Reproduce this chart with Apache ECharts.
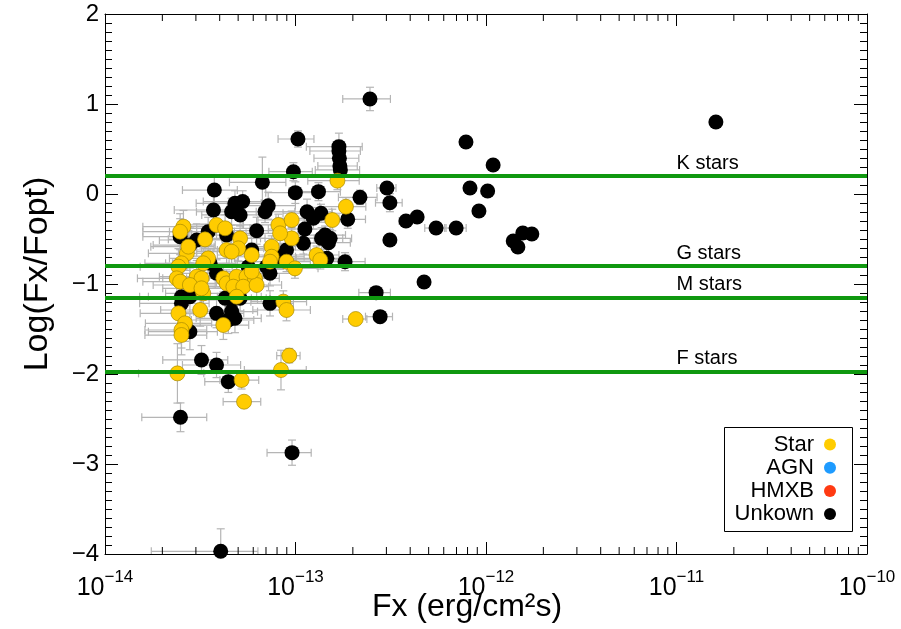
<!DOCTYPE html>
<html>
<head>
<meta charset="utf-8">
<script src="https://cdn.jsdelivr.net/npm/echarts@6/dist/echarts.min.js"></script>
<style>html,body{margin:0;padding:0;background:#fff;}#c{width:901px;height:629px;}</style>
</head>
<body>
<div id="c"></div>
<script>
// ---- data ----
// Unknown sources (black)
const unkFx = [2.46e-13,1.61e-11,7.85e-13,1.09e-12,1.03e-13,8.24e-13,1.02e-12,9.18e-13,3.02e-13,3.13e-13,
  3.80e-13,4.35e-13,5.47e-13,6.97e-13,3.13e-13,4.73e-13,1.39e-12,1.56e-12,1.74e-12,1.47e-12,
  1.69e-13,1.69e-13,1.70e-13,1.71e-13,1.72e-13,9.75e-14,6.70e-14,9.98e-14,1.32e-13,2.18e-13,
  1.88e-13,7.19e-14,6.92e-14,1.15e-13,1.24e-13,1.36e-13,6.25e-14,1.10e-13,1.43e-13,1.49e-13,
  3.75e-14,4.81e-14,5.28e-14,3.71e-14,4.62e-14,5.12e-14,2.48e-14,3.48e-14,4.35e-14,3.03e-14,
  2.79e-14,5.89e-14,8.97e-14,8.30e-14,1.46e-13,1.82e-13,1.37e-13,1.52e-13,3.56e-14,3.85e-14,
  7.05e-14,7.35e-14,4.27e-14,4.62e-14,5.12e-14,2.52e-14,2.52e-14,7.35e-14,2.79e-14,3.85e-14,
  4.62e-14,4.81e-14,4.44e-14,2.79e-14,2.65e-13,2.78e-13,3.21e-14,3.85e-14,4.44e-14,2.49e-14,
  9.59e-14,4.05e-14,1.12e-13,5.65e-14];
const unkY = [1.056,0.80,0.578,0.322,0.611,0.067,0.033,-0.189,0.067,-0.097,
  -0.30,-0.256,-0.378,-0.378,-0.511,-0.978,-0.522,-0.433,-0.444,-0.589,
  0.526,0.478,0.397,0.311,0.267,0.248,0.13,0.015,0.026,-0.037,
  -0.281,-0.13,-0.197,-0.197,-0.27,-0.214,-0.408,-0.548,-0.456,-0.541,
  0.044,-0.104,-0.084,-0.178,-0.197,-0.233,-0.474,-0.419,-0.456,-0.511,
  -0.567,-0.622,-0.622,-0.697,-0.715,-0.752,-0.493,-0.493,-0.77,-0.881,
  -0.807,-0.881,-1.159,-1.178,-1.159,-1.141,-1.215,-1.215,-1.141,-1.326,
  -1.307,-1.381,-1.40,-1.53,-1.096,-1.363,-1.844,-1.90,-2.085,-2.481,
  -2.874,-3.97,-0.389,-0.81];
const unkDx = [0.69e-13,0,0,0,0.22e-13,0,0,0,0.35e-13,0.5e-13,
  0.3e-13,0.3e-13,0.7e-13,0.9e-13,0.2e-13,0,0,0,0,0,
  0.55e-13,0.5e-13,0.45e-13,0.4e-13,0.45e-13,0.25e-13,0.22e-13,0.3e-13,0.4e-13,0.5e-13,
  0.45e-13,0.28e-13,0.3e-13,0.4e-13,0.45e-13,0.5e-13,0.25e-13,0.35e-13,0.4e-13,0.45e-13,
  1.2e-14,1.8e-14,2.0e-14,1.4e-14,1.6e-14,1.9e-14,0.9e-14,1.3e-14,1.5e-14,1.1e-14,
  1.0e-14,2.0e-14,3.0e-14,2.8e-14,0.45e-13,0.5e-13,0.4e-13,0.45e-13,1.3e-14,1.4e-14,
  2.4e-14,2.6e-14,1.6e-14,1.7e-14,1.9e-14,1.0e-14,1.0e-14,2.4e-14,1.1e-14,1.5e-14,
  1.7e-14,1.8e-14,1.6e-14,1.1e-14,0.5e-13,0.45e-13,1.2e-14,1.3e-14,1.1e-14,0.93e-14,
  2.5e-14,2.3e-14,0.4e-13,2.0e-14];
const unkDy = [0.13,0,0,0,0.09,0,0,0,0.05,0.1,
  0,0,0,0,0.03,0,0,0,0,0,
  0.15,0.12,0.1,0.1,0.08,0.1,0.28,0.12,0.1,0.08,
  0.1,0.15,0.12,0.14,0.12,0.1,0.15,0.12,0.1,0.12,
  0.15,0.14,0.12,0.18,0.15,0.12,0.2,0.16,0.14,0.18,
  0.2,0.13,0.12,0.14,0.1,0.1,0.12,0.1,0.16,0.15,
  0.12,0.14,0.16,0.15,0.14,0.2,0.18,0.14,0.17,0.16,
  0.15,0.16,0.15,0.2,0.06,0.06,0.16,0.14,0.12,0.16,
  0.14,0.25,0.12,0.14];

// Stars (yellow)
const starFx = [1.66e-13,1.84e-13,1.56e-13,8.13e-14,9.55e-14,9.55e-14,8.30e-14,2.58e-14,2.48e-14,3.85e-14,
  4.27e-14,3.35e-14,5.12e-14,5.01e-14,4.35e-14,4.62e-14,2.69e-14,2.74e-14,3.48e-14,3.28e-14,
  2.52e-14,2.43e-14,5.89e-14,7.50e-14,7.50e-14,8.97e-14,9.93e-14,1.29e-13,1.35e-13,2.38e-14,
  2.48e-14,3.03e-14,3.21e-14,2.79e-14,3.28e-14,3.21e-14,4.18e-14,4.35e-14,4.91e-14,5.53e-14,
  6.12e-14,4.72e-14,5.32e-14,6.25e-14,5.89e-14,7.35e-14,4.91e-14,3.16e-14,4.18e-14,2.43e-14,
  2.63e-14,2.52e-14,2.52e-14,8.63e-14,8.97e-14,2.07e-13,2.40e-14,5.21e-14,5.37e-14,9.27e-14,
  8.39e-14];
const starY = [0.148,-0.141,-0.289,-0.344,-0.289,-0.493,-0.437,-0.363,-0.419,-0.344,
  -0.381,-0.504,-0.493,-0.604,-0.622,-0.641,-0.659,-0.585,-0.715,-0.77,
  -0.77,-0.807,-0.678,-0.585,-0.697,-0.752,-0.826,-0.678,-0.733,-0.937,
  -0.974,-0.919,-0.937,-1.011,-1.104,-1.048,-0.937,-0.993,-0.919,-0.919,
  -0.937,-1.03,-1.03,-1.011,-0.863,-0.752,-1.141,-1.289,-1.456,-1.326,
  -1.437,-1.511,-1.567,-1.196,-1.289,-1.389,-1.993,-2.067,-2.308,-1.796,
  -1.956];
const starDx = [0.5e-13,0.5e-13,0.45e-13,2.8e-14,3.2e-14,3.0e-14,2.8e-14,1.0e-14,0.9e-14,1.4e-14,
  1.5e-14,1.2e-14,1.8e-14,1.8e-14,1.6e-14,1.6e-14,1.0e-14,1.0e-14,1.3e-14,1.2e-14,
  0.9e-14,0.9e-14,2.0e-14,2.5e-14,2.5e-14,3.0e-14,3.2e-14,0.4e-13,0.42e-13,0.9e-14,
  0.9e-14,1.1e-14,1.2e-14,1.0e-14,1.2e-14,1.2e-14,1.5e-14,1.6e-14,1.8e-14,2.0e-14,
  2.1e-14,1.7e-14,1.9e-14,2.2e-14,2.0e-14,2.4e-14,1.7e-14,1.2e-14,1.5e-14,0.9e-14,
  1.0e-14,0.9e-14,0.9e-14,2.8e-14,3.0e-14,0.3e-13,0.9e-14,1.2e-14,1.2e-14,1.3e-14,
  3.0e-14];
const starDy = [0.1,0.1,0.12,0.12,0.1,0.12,0.14,0.18,0.2,0.16,
  0.15,0.17,0.14,0.14,0.15,0.15,0.19,0.18,0.16,0.17,
  0.2,0.2,0.13,0.12,0.12,0.11,0.11,0.1,0.1,0.2,
  0.2,0.18,0.17,0.19,0.17,0.17,0.15,0.15,0.14,0.13,
  0.13,0.15,0.14,0.13,0.13,0.12,0.15,0.18,0.16,0.2,
  0.2,0.2,0.22,0.12,0.12,0.05,0.33,0.1,0.05,0.08,
  0.22];

// AGN and HMXB: none plotted (legend only)
const agnFx = [], agnY = [];
const hmxbFx = [], hmxbY = [];

// Spectral class reference lines
const classNames = ['K stars','G stars','M stars','F stars'];
const classY = [0.2, -0.8, -1.15, -1.97];
const classLabelX = 1e-11;

// Axis ticks
const xMajorExp = [-14,-13,-12,-11,-10];
const xMinorMant = [2,3,4,5,6,7,8,9];

const legendNames = ['Star','AGN','HMXB','Unkown'];
const legendColors = ['#FFCC00','#1E9BFF','#FF3A12','#000000'];

// ---- chart ----
const chart = echarts.init(document.getElementById('c'), null, {renderer:'canvas'});
const FONT = 'Liberation Sans, Arial, Helvetica, sans-serif';
const GRID = {left:105, right:34, top:14, bottom:75, containLabel:false, outerBoundsMode:'none'};

const xMinorTicks = [];
xMajorExp.slice(0,-1).forEach(e => xMinorMant.forEach(m => xMinorTicks.push(m*Math.pow(10,e))));

function toRows(fx, y, dx, dy){ return fx.map((v,i)=>[v, y[i], dx ? dx[i] : 0, dy ? dy[i] : 0]); }

function errorSeries(name, rows){
  return {
    type:'custom', name:name+'-err', silent:true, z:1, clip:true,
    xAxisIndex:0, yAxisIndex:0,
    data: rows, encode:{x:0, y:1},
    renderItem(params, api){
      const x = api.value(0), y = api.value(1), ex = api.value(2), ey = api.value(3);
      const st = {stroke:'#b5b5b5', lineWidth:1.2, fill:null};
      const cap = 4, ch = [];
      if (ex > 0){
        const a = api.coord([x-ex, y]), b = api.coord([x+ex, y]);
        ch.push({type:'line', shape:{x1:a[0],y1:a[1],x2:b[0],y2:b[1]}, style:st});
        ch.push({type:'line', shape:{x1:a[0],y1:a[1]-cap,x2:a[0],y2:a[1]+cap}, style:st});
        ch.push({type:'line', shape:{x1:b[0],y1:b[1]-cap,x2:b[0],y2:b[1]+cap}, style:st});
      }
      if (ey > 0){
        const a = api.coord([x, y-ey]), b = api.coord([x, y+ey]);
        ch.push({type:'line', shape:{x1:a[0],y1:a[1],x2:b[0],y2:b[1]}, style:st});
        ch.push({type:'line', shape:{x1:a[0]-cap,y1:a[1],x2:a[0]+cap,y2:a[1]}, style:st});
        ch.push({type:'line', shape:{x1:b[0]-cap,y1:b[1],x2:b[0]+cap,y2:b[1]}, style:st});
      }
      return {type:'group', children:ch};
    }
  };
}

const xAxisBase = {
  type:'log', logBase:10, min:1e-14, max:1e-10, gridIndex:0,
  splitLine:{show:false}, minorTick:{show:false}, minorSplitLine:{show:false},
  axisLine:{show:true, onZero:false, lineStyle:{color:'#000', width:1}},
  axisTick:{show:true, inside:true, length:12, lineStyle:{color:'#000', width:1}}
};
const yAxisBase = {
  type:'value', min:-4, max:2, interval:1, gridIndex:0,
  splitLine:{show:false},
  axisLine:{show:true, onZero:false, lineStyle:{color:'#000', width:1}},
  axisTick:{show:true, inside:true, length:13, lineStyle:{color:'#000', width:1}},
  minorTick:{show:true, splitNumber:10, length:7, lineStyle:{color:'#000', width:1}}
};

const option = {
  animation:false,
  backgroundColor:'#fff',
  grid: GRID,
  xAxis:[
    Object.assign({}, xAxisBase, {
      position:'bottom',
      name:'Fx (erg/cm²s)', nameLocation:'middle', nameGap:37, nameMoveOverlap:false,
      nameTextStyle:{fontFamily:FONT, fontSize:32, color:'#000', verticalAlign:'top', padding:[0,38,0,0]},
      axisLabel:{
        show:true, margin:15, color:'#000',
        formatter: v => '{b|10}{s|\u2212' + Math.abs(Math.round(Math.log10(v))) + '}',
        rich:{
          b:{fontFamily:FONT, fontSize:25, color:'#000', lineHeight:32, verticalAlign:'bottom'},
          s:{fontFamily:FONT, fontSize:17, color:'#000', lineHeight:32, verticalAlign:'top'}
        }
      }
    }),
    Object.assign({}, xAxisBase, {position:'top', axisLabel:{show:false}})
  ],
  yAxis:[
    Object.assign({}, yAxisBase, {
      position:'left',
      name:'Log(Fx/Fopt)', nameLocation:'middle', nameGap:50, nameMoveOverlap:false,
      nameTextStyle:{fontFamily:FONT, fontSize:34, color:'#000', padding:[0,0,0,20]},
      axisLabel:{show:true, margin:6, fontFamily:FONT, fontSize:24, color:'#000',
        formatter: v => v < 0 ? '\u2212' + (-v) : String(v)}
    }),
    Object.assign({}, yAxisBase, {position:'right', axisLabel:{show:false}})
  ],
  series:[
    // minor log ticks on the x axes (bottom and top)
    {
      type:'custom', name:'xminor', silent:true, z:5, xAxisIndex:0, yAxisIndex:0,
      data: xMinorTicks.map(v => [v]), encode:{x:0},
      renderItem(params, api){
        const v = api.value(0);
        const b = api.coord([v, -4]), t = api.coord([v, 2]);
        const st = {stroke:'#000', lineWidth:1};
        return {type:'group', children:[
          {type:'line', shape:{x1:b[0],y1:b[1],x2:b[0],y2:b[1]-7}, style:st},
          {type:'line', shape:{x1:t[0],y1:t[1],x2:t[0],y2:t[1]+7}, style:st}
        ]};
      }
    },
    errorSeries('Unkown', toRows(unkFx, unkY, unkDx, unkDy)),
    errorSeries('Star', toRows(starFx, starY, starDx, starDy)),
    // spectral class lines
    {
      type:'line', name:'classes', data:[], xAxisIndex:0, yAxisIndex:0, z:2,
      markLine:{
        silent:true, symbol:['none','none'], animation:false,
        lineStyle:{color:'#0f980f', width:4, type:'solid', opacity:1},
        label:{show:false},
        data: classY.map(y => ({yAxis:y}))
      }
    },
    {
      type:'custom', name:'classLabels', silent:true, z:6, xAxisIndex:0, yAxisIndex:0,
      data: classY.map((y,i) => [classLabelX, y, i]), encode:{x:0, y:1},
      renderItem(params, api){
        const p = api.coord([api.value(0), api.value(1)]);
        return {type:'text', x:p[0], y:p[1]-3,
          style:{text:classNames[api.value(2)], fill:'#000', font:'20px '+FONT,
            textAlign:'left', textVerticalAlign:'bottom'}};
      }
    },
    {
      type:'scatter', name:'Unkown', xAxisIndex:0, yAxisIndex:0, z:3, clip:true,
      symbol:'circle', symbolSize:15,
      itemStyle:{color:'#000', opacity:1},
      data: unkFx.map((v,i)=>[v, unkY[i]])
    },
    {
      type:'scatter', name:'AGN', xAxisIndex:0, yAxisIndex:0, z:3,
      symbolSize:15, itemStyle:{color:legendColors[1], opacity:1},
      data: agnFx.map((v,i)=>[v, agnY[i]])
    },
    {
      type:'scatter', name:'HMXB', xAxisIndex:0, yAxisIndex:0, z:3,
      symbolSize:15, itemStyle:{color:legendColors[2], opacity:1},
      data: hmxbFx.map((v,i)=>[v, hmxbY[i]])
    },
    {
      type:'scatter', name:'Star', xAxisIndex:0, yAxisIndex:0, z:4, clip:true,
      symbol:'circle', symbolSize:15,
      itemStyle:{color:'#FFCC00', borderColor:'#A88A00', borderWidth:0.7, opacity:1},
      data: starFx.map((v,i)=>[v, starY[i]])
    }
  ],
  graphic:[
    {type:'rect', left:724, top:427, z:100,
     shape:{width:128, height:104}, style:{fill:'#fff', stroke:'#000', lineWidth:1}},
  ].concat(legendNames.map((n,i)=>({
    type:'text', z:101, x:814, y:444.5 + i*23.2,
    style:{text:n, fill:'#000', font:'22px '+FONT, textAlign:'right', textVerticalAlign:'middle'}
  }))).concat(legendNames.map((n,i)=>({
    type:'circle', z:101, shape:{cx:830, cy:444.5 + i*23.2, r:6},
    style:{fill:legendColors[i]}
  })))
};
chart.setOption(option);
</script>
</body>
</html>
